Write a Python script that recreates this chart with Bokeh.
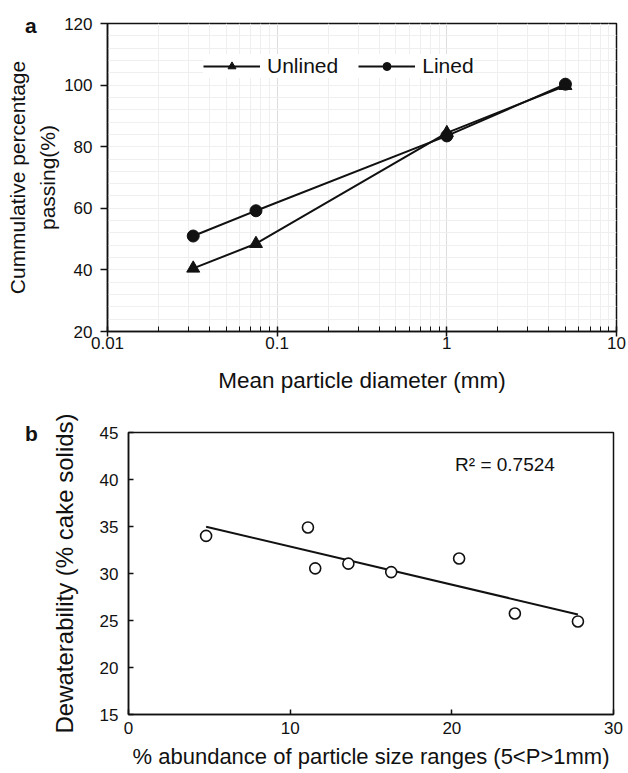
from bokeh.plotting import figure
from bokeh.models import Range1d, FixedTicker, Label, Legend, LinearAxis, Div
from bokeh.embed import file_html
from bokeh.resources import INLINE
import numpy as np

# ---------- data: panel a ----------
diam_mm = [0.032, 0.075, 1.0, 5.0]
unlined_pct = [40.5, 48.5, 84.5, 99.8]
lined_pct = [51.0, 59.2, 83.5, 100.3]
xa_ticks = [0.01, 0.1, 1.0, 10.0]
xa_labels = ["0.01", "0.1", "1", "10"]
ya_ticks = [20, 40, 60, 80, 100, 120]

# ---------- data: panel b ----------
abund_pct = [4.8, 11.1, 11.55, 13.6, 16.25, 20.45, 23.9, 27.8]
dewater_pct = [34.0, 34.9, 30.55, 31.05, 30.15, 31.6, 25.75, 24.9]
xb_ticks = [0, 10, 20, 30]
yb_ticks = [15, 20, 25, 30, 35, 40, 45]
r2_text = "R\u00b2 = 0.7524"

FONT = "Liberation Sans"
BLACK = "#111111"


def style_axis(ax, label_size):
    ax.axis_line_color = BLACK
    ax.axis_line_width = 1.5
    ax.major_tick_line_color = BLACK
    ax.major_tick_line_width = 1.5
    ax.minor_tick_line_color = BLACK
    ax.major_label_text_font = FONT
    ax.major_label_text_font_size = "17px"
    ax.major_label_text_color = BLACK
    ax.axis_label_text_font = FONT
    ax.axis_label_text_font_size = label_size
    ax.axis_label_text_font_style = "normal"
    ax.axis_label_text_color = BLACK


# ---------- panel a ----------
pa = figure(width=626, height=400, x_axis_type="log",
            x_range=Range1d(0.01, 10), y_range=Range1d(20, 120),
            output_backend="svg", toolbar_location=None,
            min_border_left=107, min_border_right=10,
            min_border_top=23, min_border_bottom=69)
pa.outline_line_color = BLACK
pa.outline_line_width = 1.5

minor_x = [m * 10.0 ** e for e in range(-2, 1) for m in range(2, 10)]
pa.xaxis.ticker = FixedTicker(ticks=xa_ticks, minor_ticks=minor_x)
pa.xaxis.major_label_overrides = dict(zip(xa_ticks, xa_labels))
minor_y = [v for v in range(20, 121, 4)]
pa.yaxis.ticker = FixedTicker(ticks=ya_ticks, minor_ticks=minor_y)

pa.xgrid.grid_line_color = "#dddddd"
pa.xgrid.minor_grid_line_color = "#efefef"
pa.ygrid.grid_line_color = "#efefef"
pa.ygrid.minor_grid_line_color = "#efefef"

style_axis(pa.xaxis, "22.5px")
style_axis(pa.yaxis, "21px")

pa.xaxis.major_tick_in = 5
pa.xaxis.major_tick_out = 5
pa.xaxis.minor_tick_in = 5
pa.xaxis.minor_tick_out = 0
pa.xaxis.major_label_standoff = 0
pa.xaxis.axis_label = "Mean particle diameter (mm)"
pa.xaxis.axis_label_standoff = 16

pa.yaxis.major_tick_in = 0
pa.yaxis.major_tick_out = 7
pa.yaxis.minor_tick_line_color = None
pa.yaxis.major_label_standoff = 8
pa.yaxis.axis_label = "passing(%)"
pa.yaxis.axis_label_standoff = 2

# outer line of the two-line y title
ya_outer = LinearAxis(ticker=FixedTicker(ticks=[]),
                      axis_label="Cummulative percentage")
style_axis(ya_outer, "21px")
ya_outer.axis_line_color = None
ya_outer.major_tick_out = 0
ya_outer.major_tick_in = 0
ya_outer.minor_tick_out = 0
ya_outer.minor_tick_in = 0
ya_outer.axis_label_standoff = 5
pa.add_layout(ya_outer, "left")

l1 = pa.line(diam_mm, unlined_pct, line_color=BLACK, line_width=2)
m1 = pa.scatter(diam_mm, unlined_pct, marker="triangle", size=13,
                fill_color=BLACK, line_color=BLACK)
l2 = pa.line(diam_mm, lined_pct, line_color=BLACK, line_width=2)
m2 = pa.scatter(diam_mm, lined_pct, marker="circle", size=12,
                fill_color=BLACK, line_color=BLACK)

legend = Legend(items=[("Unlined", [l1, m1]), ("Lined", [l2, m2])],
                orientation="horizontal", location=(96, 253),
                glyph_width=57, glyph_height=20, label_standoff=7,
                spacing=20, padding=0, margin=0,
                border_line_color=None, background_fill_color="white",
                background_fill_alpha=1.0,
                label_text_font=FONT, label_text_font_size="21px",
                label_text_color=BLACK)
pa.add_layout(legend)

# ---------- panel b ----------
pb = figure(width=626, height=373,
            x_range=Range1d(0, 30), y_range=Range1d(15, 45),
            output_backend="svg", toolbar_location=None,
            min_border_left=128, min_border_right=13,
            min_border_top=32, min_border_bottom=59)
pb.outline_line_color = BLACK
pb.outline_line_width = 1.5
pb.xgrid.grid_line_color = None
pb.ygrid.grid_line_color = None
pb.xaxis.ticker = FixedTicker(ticks=xb_ticks)
pb.yaxis.ticker = FixedTicker(ticks=yb_ticks)

for ax in (pb.xaxis, pb.yaxis):
    style_axis(ax, "22px")
    ax.major_tick_in = 5
    ax.major_tick_out = 0
    ax.minor_tick_line_color = None

pb.xaxis.major_label_standoff = 7
pb.xaxis.axis_label = "% abundance of particle size ranges (5<P>1mm)"
pb.xaxis.axis_label_standoff = 7
pb.yaxis.major_label_standoff = 10
pb.yaxis.axis_label = "Dewaterability (% cake solids)"
pb.yaxis.axis_label_text_font_size = "24px"
pb.yaxis.axis_label_standoff = 19

slope, intercept = np.polyfit(abund_pct, dewater_pct, 1)
tx = [min(abund_pct), max(abund_pct)]
ty = [slope * v + intercept for v in tx]
pb.line(tx, ty, line_color=BLACK, line_width=2)
pb.scatter(abund_pct, dewater_pct, marker="circle", size=11,
           fill_color="white", line_color=BLACK, line_width=1.6)

pb.add_layout(Label(x=20.2, y=41.6, text=r2_text, text_font=FONT,
                    text_font_size="19px", text_color=BLACK,
                    text_baseline="middle", text_align="left"))


def panel_letter(txt, left, top):
    return Div(text="<b>%s</b>" % txt,
               styles={"position": "absolute", "left": "%dpx" % left,
                       "top": "%dpx" % top, "font-family": FONT,
                       "font-size": "21px", "line-height": "1",
                       "color": BLACK, "z-index": "10"})


label_a = panel_letter("a", 20, 10)
label_b = panel_letter("b", 20, 418)

open("out.html", "w").write(file_html([pa, pb, label_a, label_b], INLINE))
